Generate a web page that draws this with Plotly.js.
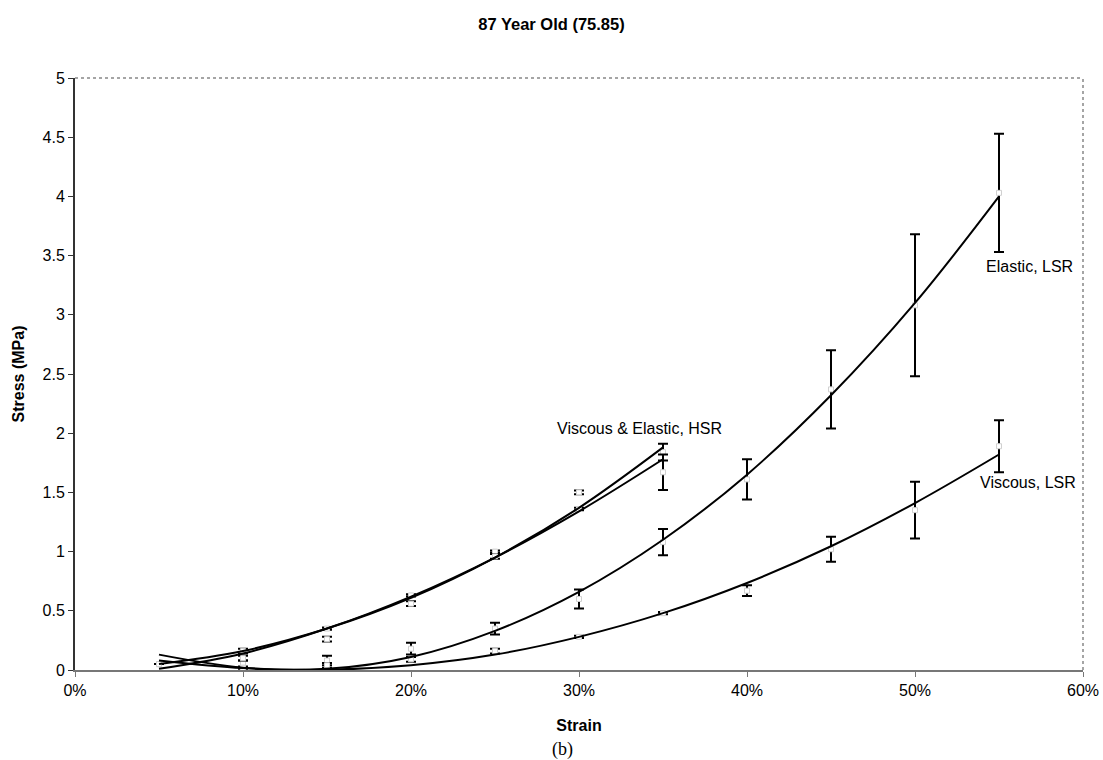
<!DOCTYPE html>
<html>
<head>
<meta charset="utf-8">
<script src="https://cdn.plot.ly/plotly-3.0.1.min.js"></script>
<style>html,body{margin:0;padding:0;background:#fff;}#chart{width:1103px;height:760px;}</style>
</head>
<body>
<div id="chart"></div>
<script>
// Strain values (fraction)
const strainLSR = [0.05, 0.10, 0.15, 0.20, 0.25, 0.30, 0.35, 0.40, 0.45, 0.50, 0.55];
const strainHSR = [0.05, 0.10, 0.15, 0.20, 0.25, 0.30, 0.35];

// Measured mean stress (MPa) and error (MPa)
const elasticLSR     = [0.05, 0.05, 0.08, 0.18, 0.35, 0.60, 1.08, 1.61, 2.37, 3.08, 4.03];
const elasticLSRErr  = [0.00, 0.03, 0.04, 0.05, 0.05, 0.08, 0.11, 0.17, 0.33, 0.60, 0.50];
const viscousLSR     = [0.05, 0.02, 0.04, 0.09, 0.16, 0.28, 0.48, 0.67, 1.02, 1.35, 1.89];
const viscousLSRErr  = [0.00, 0.01, 0.02, 0.02, 0.02, 0.01, 0.01, 0.045, 0.105, 0.24, 0.22];
const elasticHSR     = [0.05, 0.16, 0.35, 0.63, 1.00, 1.50, 1.84];
const elasticHSRErr  = [0.00, 0.02, 0.01, 0.01, 0.01, 0.015, 0.07];
const viscousHSR     = [0.05, 0.10, 0.26, 0.56, 0.96, 1.36, 1.67];
const viscousHSRErr  = [0.00, 0.02, 0.02, 0.02, 0.02, 0.01, 0.15];

// Trendline values at each strain step
const elasticLSRTrend = [0.13, 0.02, 0.01, 0.11, 0.33, 0.66, 1.10, 1.65, 2.32, 3.10, 4.00];
const viscousLSRTrend = [0.08, 0.016, 0.002, 0.04, 0.13, 0.28, 0.48, 0.735, 1.045, 1.41, 1.82];
const elasticHSRTrend = [0.05, 0.16, 0.35, 0.61, 0.95, 1.37, 1.88];
const viscousHSRTrend = [0.01, 0.14, 0.35, 0.62, 0.95, 1.34, 1.78];

// Text labels
const chartTitle = "87 Year Old (75.85)";
const xTitle = "Strain";
const yTitle = "Stress (MPa)";
const panelLabel = "(b)";
const seriesLabels = [
  {text: "Viscous & Elastic, HSR", x: 0.336, y: 2.04},
  {text: "Elastic, LSR", x: 0.568, y: 3.41},
  {text: "Viscous, LSR", x: 0.567, y: 1.58}
];

const font = "Liberation Sans, Arial, sans-serif";

function dataTrace(name, x, y, err) {
  return {
    type: "scatter", mode: "markers", name: name, x: x, y: y,
    marker: {symbol: "square", size: 5, color: "#ffffff", line: {color: "#d0d0d0", width: 1}},
    error_y: {type: "data", array: err, visible: true, color: "#000000", thickness: 2, width: 5},
    showlegend: false, hoverinfo: "x+y+name"
  };
}
function trendTrace(name, x, y) {
  return {
    type: "scatter", mode: "lines", name: name, x: x, y: y,
    line: {color: "#000000", width: 2, shape: "spline", smoothing: 1},
    showlegend: false, hoverinfo: "skip"
  };
}

const traces = [
  dataTrace("Elastic, LSR", strainLSR, elasticLSR, elasticLSRErr),
  dataTrace("Viscous, LSR", strainLSR, viscousLSR, viscousLSRErr),
  dataTrace("Elastic, HSR", strainHSR, elasticHSR, elasticHSRErr),
  dataTrace("Viscous, HSR", strainHSR, viscousHSR, viscousHSRErr),
  trendTrace("Elastic, LSR trend", strainLSR, elasticLSRTrend),
  trendTrace("Viscous, LSR trend", strainLSR, viscousLSRTrend),
  trendTrace("Elastic, HSR trend", strainHSR, elasticHSRTrend),
  trendTrace("Viscous, HSR trend", strainHSR, viscousHSRTrend)
];

const annotations = seriesLabels.map(l => ({
  x: l.x, y: l.y, xref: "x", yref: "y", text: l.text, showarrow: false,
  font: {family: font, size: 16, color: "#000"}
}));
annotations.push({
  xref: "paper", yref: "paper", x: 0.484, y: -0.135, yanchor: "middle", text: panelLabel, showarrow: false,
  font: {family: "Liberation Serif, Times New Roman, serif", size: 18, color: "#000"}
});

const layout = {
  width: 1103, height: 760,
  margin: {l: 75, r: 20, t: 78, b: 90},
  paper_bgcolor: "#ffffff", plot_bgcolor: "#ffffff",
  title: {text: chartTitle, x: 0.5, xanchor: "center", y: 0.968, yanchor: "middle",
          font: {family: font, size: 16.5, color: "#000", weight: "bold"}},
  xaxis: {
    range: [0, 0.6], dtick: 0.1, tick0: 0, tickformat: ".0%",
    showgrid: false, zeroline: false,
    showline: true, linecolor: "#777", linewidth: 1.5,
    ticks: "outside", ticklen: 5, tickcolor: "#777", tickwidth: 1,
    tickfont: {family: font, size: 16, color: "#000"},
    title: {text: xTitle, standoff: 22, font: {family: font, size: 16, color: "#000", weight: "bold"}}
  },
  yaxis: {
    range: [0, 5], dtick: 0.5, tick0: 0,
    showgrid: false, zeroline: false,
    showline: true, linecolor: "#333", linewidth: 2,
    ticks: "outside", ticklen: 5, tickcolor: "#333", tickwidth: 1,
    tickfont: {family: font, size: 16, color: "#000"},
    title: {text: yTitle, standoff: 14, font: {family: font, size: 16, color: "#000", weight: "bold"}}
  },
  shapes: [
    {type: "line", xref: "paper", yref: "paper", x0: 0, x1: 1, y0: 1, y1: 1,
     line: {color: "#888", width: 1.5, dash: "dot"}},
    {type: "line", xref: "paper", yref: "paper", x0: 1, x1: 1, y0: 0, y1: 1,
     line: {color: "#888", width: 1.5, dash: "dot"}}
  ],
  annotations: annotations,
  showlegend: false
};

Plotly.newPlot("chart", traces, layout, {displayModeBar: false, staticPlot: true});
</script>
</body>
</html>
